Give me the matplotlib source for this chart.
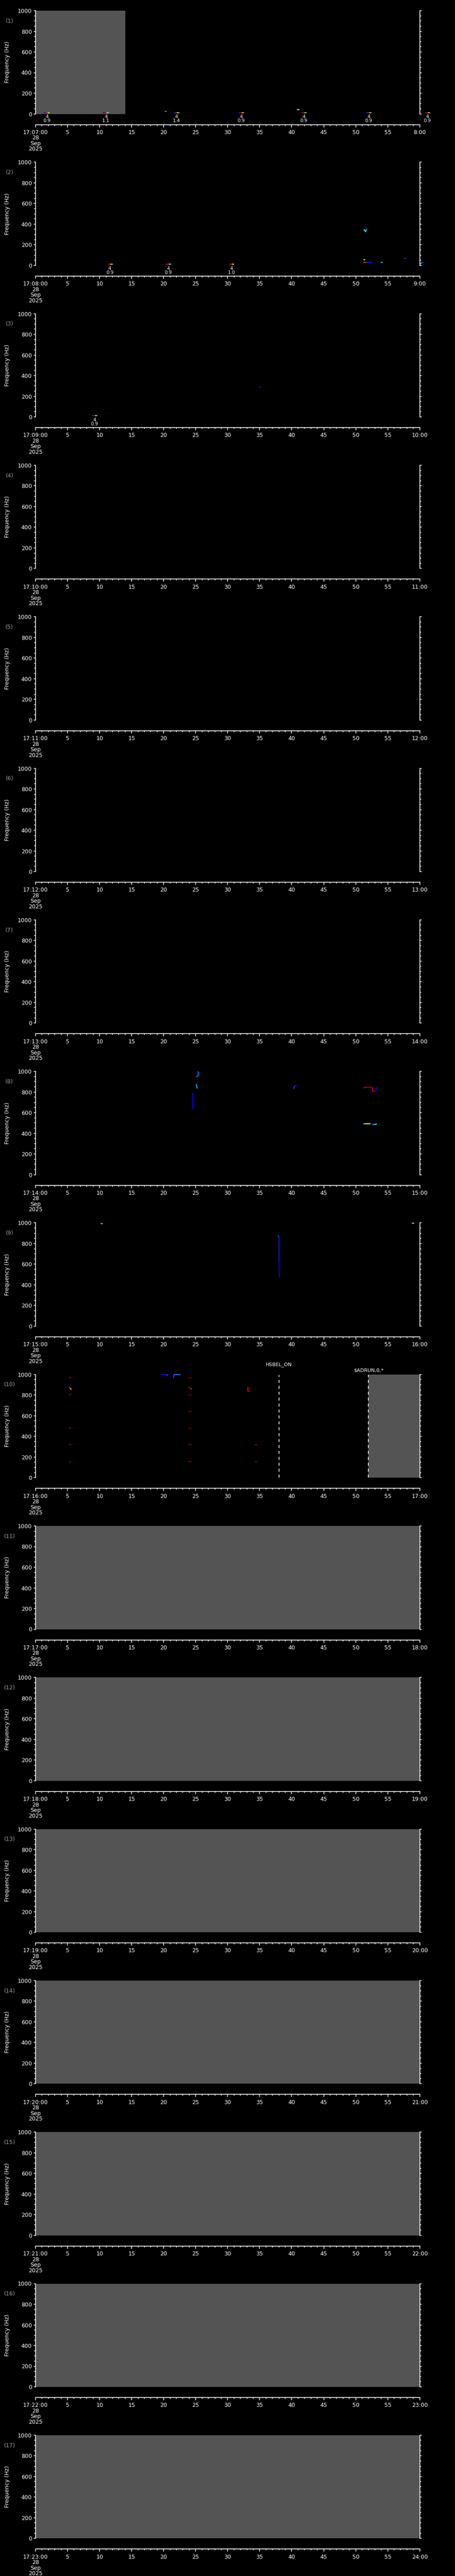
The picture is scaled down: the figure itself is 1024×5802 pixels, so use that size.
import matplotlib
matplotlib.use('Agg')
import matplotlib.pyplot as plt
import numpy as np
from matplotlib.collections import LineCollection
from matplotlib.ticker import MultipleLocator

# one panel per minute, 17:07 .. 17:24 on 28 Sep 2025
panel_minutes = list(range(7, 24))
freq_ticks = [0, 200, 400, 600, 800, 1000]

# grey = no data, (panel, start s, end s)
nodata_spans = [(0, 0, 14), (9, 52, 60), (10, 0, 60), (11, 0, 60), (12, 0, 60),
                (13, 0, 60), (14, 0, 60), (15, 0, 60), (16, 0, 60)]

# event markers below the axis: (panel, time s, top label, bottom label)
event_panel = [0, 0, 0, 0, 0, 0, 0, 1, 1, 1, 2]
event_time = [1.8, 11.0, 22.0, 32.1, 41.9, 52.0, 61.2, 11.6, 20.7, 30.6, 9.2]
event_top = ['4'] * 11
event_bottom = ['0.9', '1.1', '1.4', '0.9', '0.9', '0.9', '0.9', '0.9', '0.9', '1.0', '0.9']
event_bar_vals = [0.1, 0.92, 0.95, 0.68, 0.4, 0.15]

# spectral tracks: (panel, times s, freqs Hz, colour values 0..1)
tracks = [
    (0, [20.2, 20.5], [22, 22], [0.8, 0.15]),
    (0, [40.8, 41.2], [42, 42], [0.55, 0.1]),
    (1, [51.2, 51.4, 51.5, 51.6, 51.7], [344, 344, 328, 328, 356], [0.38, 0.6, 0.3, 0.3, 0.2]),
    (1, [51.2, 51.5], [57, 57], [0.65, 0.2]),
    (1, [51.2, 51.6, 52.5], [28, 28, 28], [0.85, 0.15, 0.1]),
    (1, [53.9, 54.2], [28, 28], [0.35, 0.35]),
    (1, [57.6, 57.9], [67, 67], [0.2, 0.1]),
    (1, [60.0, 60.2, 60.2, 60.6], [18, 18, 30, 30], [0.35, 0.3, 0.2, 0.15]),
    (2, [34.9, 35.2], [287, 290], [0.15, 0.2]),
    (7, [24.55, 24.55, 24.75], [795, 640, 640], [0.12, 0.12, 0.15]),
    (7, [25.1, 25.2, 25.3], [875, 840, 835], [0.3, 0.3, 0.3]),
    (7, [25.1, 25.2, 25.4, 25.4], [955, 948, 960, 1000], [0.25, 0.25, 0.25, 0.25]),
    (7, [40.3, 40.4, 40.6, 40.8], [830, 855, 862, 865], [0.2, 0.15, 0.12, 0.12]),
    (7, [51.2, 51.3, 52.6, 52.6, 52.8, 53.0, 53.3, 53.3], [835, 845, 845, 810, 805, 815, 820, 850],
     [0.95, 0.95, 0.95, 0.95, 0.95, 0.1, 0.1, 0.1]),
    (7, [51.2, 51.4, 52.3, 52.6, 52.9, 53.3], [490, 495, 495, 487, 485, 490],
     [0.4, 0.65, 0.1, 0.3, 0.4, 0.7]),
    (8, [10.2, 10.5], [995, 995], [0.5, 0.5]),
    (8, [37.9, 38.0, 38.0, 38.1], [880, 860, 620, 470], [0.2, 0.15, 0.12, 0.1]),
    (8, [58.8, 59.1], [998, 998], [0.5, 0.45]),
    (9, [5.2, 5.6], [965, 975], [1.0, 1.0]),
    (9, [5.2, 5.4, 5.6], [875, 865, 855], [0.9, 0.65, 0.45]),
    (9, [5.2, 5.6], [800, 810], [1.0, 1.0]),
    (9, [5.2, 5.6], [477, 484], [1.0, 1.0]),
    (9, [5.2, 5.6], [318, 320], [1.0, 1.0]),
    (9, [5.2, 5.6], [152, 155], [1.0, 1.0]),
    (9, [19.6, 20.6, 20.6], [1000, 1000, 990], [0.15, 0.25, 0.6]),
    (9, [21.6, 21.6, 22.6], [965, 1000, 1000], [0.2, 0.25, 0.25]),
    (9, [23.9, 24.4], [960, 970], [1.0, 1.0]),
    (9, [23.9, 24.2, 24.4], [875, 865, 860], [0.95, 0.85, 0.65]),
    (9, [23.9, 24.4], [797, 805], [1.0, 1.0]),
    (9, [23.9, 24.4], [637, 643], [1.0, 1.0]),
    (9, [23.9, 24.4], [478, 480], [1.0, 1.0]),
    (9, [23.9, 24.4], [318, 320], [1.0, 1.0]),
    (9, [23.9, 24.4], [155, 155], [1.0, 1.0]),
    (9, [33.15, 33.2, 33.2, 33.3], [880, 880, 835, 835], [0.7, 0.9, 0.9, 0.6]),
    (9, [34.2, 34.6], [318, 318], [1.0, 1.0]),
    (9, [34.2, 34.6], [155, 155], [1.0, 1.0]),
]

# vertical event lines with labels: (panel, time s, label, label height px)
markers = [(9, 38.0, 'HSBEL_ON', 22), (9, 52.0, '$ADRUN,0,*', 9)]

W, H = 1024, 5802
left_px, right_px = 80, 944.7
top0, step, ph = 24, 341.3, 232.5
fs = 9
grey = '#545454'
jet = plt.get_cmap('jet')


def draw_track(ax, t, f, v):
    pts = np.column_stack([t, f])
    segs = np.stack([pts[:-1], pts[1:]], axis=1)
    cols = [jet(c) for c in v[:-1]]
    ax.add_collection(LineCollection(segs, colors=cols, linewidths=1.6, clip_on=False))


def time_labels(minute):
    labs = []
    for s in range(0, 61, 5):
        if s == 0:
            labs.append('17:%02d:00\n28\nSep\n2025' % minute)
        elif s == 60:
            labs.append('%d:00' % (minute + 1))
        else:
            labs.append(str(s))
    return labs


fig = plt.figure(figsize=(W / 100, H / 100), dpi=100, facecolor='black')

for k, minute in enumerate(panel_minutes):
    top = top0 + k * step
    ax = fig.add_axes([left_px / W, 1 - (top + ph) / H, (right_px - left_px) / W, ph / H])
    ax.set_facecolor('black')
    ax.set_xlim(0, 60)
    ax.set_ylim(0, 1000)

    for p, a, b in nodata_spans:
        if p == k:
            ax.axvspan(a, b, color=grey, lw=0, zorder=0)

    for p, t, f, v in tracks:
        if p == k:
            draw_track(ax, t, f, v)

    for p, t, top_lab, bot_lab in zip(event_panel, event_time, event_top, event_bottom):
        if p != k:
            continue
        bt = np.linspace(t - 0.45, t + 0.45, len(event_bar_vals))
        draw_track(ax, bt, [12] * len(bt), event_bar_vals)
        ax.text(t, -30, top_lab, color='white', fontsize=7.5, ha='center', va='center', clip_on=False)
        ax.text(t, -68, bot_lab, color='white', fontsize=7.5, ha='center', va='center', clip_on=False)

    for p, t, lab, hpx in markers:
        if p == k:
            ax.axvline(t, color='white', lw=1.2, ls=(0, (4, 4)), ymax=0.995)
            ax.text(t, 1000 + hpx / ph * 1000, lab, color='white', fontsize=8,
                    ha='center', va='center', clip_on=False)

    ax.spines['top'].set_visible(False)
    for s in ['left', 'right', 'bottom']:
        ax.spines[s].set_color('white')
        ax.spines[s].set_linewidth(1.2)
    ax.spines['bottom'].set_position(('outward', 24 * 0.72))

    ax.set_yticks(freq_ticks)
    ax.yaxis.set_minor_locator(MultipleLocator(50))
    ax.tick_params(axis='y', which='both', direction='out', colors='white', left=True, right=True,
                   labelright=False, labelsize=fs, pad=3, width=1.1)
    ax.tick_params(axis='y', which='major', length=3)
    ax.tick_params(axis='y', which='minor', length=2)

    ax.set_xticks(range(0, 61, 5))
    ax.set_xticklabels(time_labels(minute), linespacing=0.95)
    ax.xaxis.set_minor_locator(MultipleLocator(1))
    ax.tick_params(axis='x', which='both', direction='out', colors='white', labelsize=fs, pad=4, width=1.1)
    ax.tick_params(axis='x', which='major', length=4.2)
    ax.tick_params(axis='x', which='minor', length=2.4)

    ax.set_ylabel('Frequency (Hz)', color='white', fontsize=fs)
    ax.yaxis.set_label_coords(-0.066, 0.5)
    ax.text(-0.068, 0.9, '(%d)' % (k + 1), color='#a0a0a0', fontsize=fs,
            ha='center', va='center', transform=ax.transAxes)

fig.savefig('out.png', dpi=100, facecolor='black')
